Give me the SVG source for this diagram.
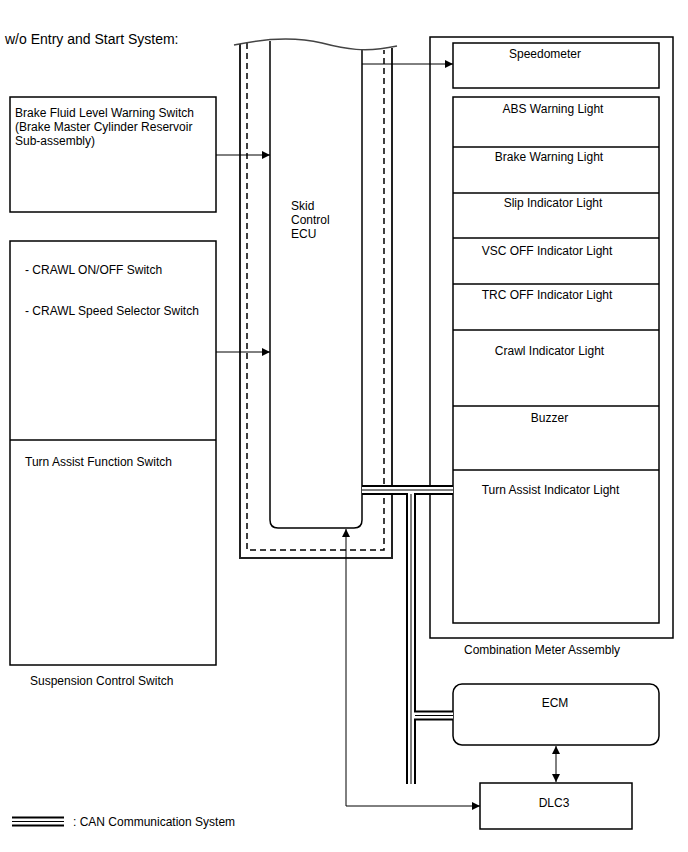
<svg xmlns="http://www.w3.org/2000/svg" width="688" height="852" viewBox="0 0 688 852">
<style>
text{font-family:"Liberation Sans",Arial,sans-serif;font-size:12px;fill:#000}
.c{text-anchor:middle}
.box{fill:#fff;stroke:#000;stroke-width:1.5}
.wall{fill:none;stroke:#222;stroke-width:2}
.dash{fill:none;stroke:#000;stroke-width:1.5;stroke-dasharray:6,4}
.ln{fill:none;stroke:#000;stroke-width:1}
.canO{fill:none;stroke:#000;stroke-width:10}
.canW{fill:none;stroke:#fff;stroke-width:6}
.canI{fill:none;stroke:#000;stroke-width:1}
</style>
<defs>
<marker id="ah" viewBox="0 0 10 10" refX="10" refY="5" markerWidth="10" markerHeight="8" markerUnits="userSpaceOnUse" orient="auto-start-reverse">
<path d="M0,0 L10,5 L0,10 z" fill="#000"/>
</marker>
</defs>
<rect width="688" height="852" fill="#fff"/>
<text x="5" y="44" style="font-size:14px">w/o Entry and Start System:</text>

<g id="skid-ecu">
<path class="wall" d="M240,44 V558 H392 V48"/>
<path class="dash" d="M247,43 V550 H384 V50"/>
<path class="ln" style="stroke-width:1.5" d="M270,41 V520 Q270,528 278,528 H354 Q362,528 362,520 V50"/>
<path d="M234,45 C262,39 292,36 322,43 C345,49 365,53 397,46" fill="none" stroke="#444" stroke-width="1.5"/>
<text x="291" y="210">Skid</text>
<text x="291" y="224">Control</text>
<text x="291" y="238">ECU</text>
</g>

<g id="brake-fluid-switch">
<rect class="box" x="10" y="97" width="206" height="115"/>
<text x="15" y="117">Brake Fluid Level Warning Switch</text>
<text x="15" y="131">(Brake Master Cylinder Reservoir</text>
<text x="15" y="145">Sub-assembly)</text>
</g>

<g id="suspension-control-switch">
<rect class="box" x="10" y="241" width="206" height="424"/>
<line class="ln" x1="10" y1="440" x2="216" y2="440" style="stroke-width:1.5"/>
<text x="25" y="274">- CRAWL ON/OFF Switch</text>
<text x="25" y="315">- CRAWL Speed Selector Switch</text>
<text x="25" y="466">Turn Assist Function Switch</text>
<text x="30" y="685">Suspension Control Switch</text>
</g>

<g id="combination-meter">
<rect class="box" x="430" y="37" width="243" height="601"/>
<rect class="box" x="453" y="43" width="206" height="45"/>
<text class="c" x="545" y="58">Speedometer</text>
<rect class="box" x="453" y="97" width="206" height="526"/>
<g class="ln" style="stroke-width:1.5">
<line x1="453" y1="147" x2="659" y2="147"/>
<line x1="453" y1="193" x2="659" y2="193"/>
<line x1="453" y1="238" x2="659" y2="238"/>
<line x1="453" y1="284" x2="659" y2="284"/>
<line x1="453" y1="330" x2="659" y2="330"/>
<line x1="453" y1="406" x2="659" y2="406"/>
<line x1="453" y1="470" x2="659" y2="470"/>
</g>
<text class="c" x="553" y="113">ABS Warning Light</text>
<text class="c" x="549" y="161">Brake Warning Light</text>
<text class="c" x="553" y="207">Slip Indicator Light</text>
<text class="c" x="547" y="255">VSC OFF Indicator Light</text>
<text class="c" x="547" y="299">TRC OFF Indicator Light</text>
<text class="c" x="549.5" y="355">Crawl Indicator Light</text>
<text class="c" x="549.5" y="422">Buzzer</text>
<text class="c" x="550.5" y="494">Turn Assist Indicator Light</text>
<text x="464" y="654">Combination Meter Assembly</text>
</g>

<g id="ecm">
<rect class="box" x="453" y="684" width="206" height="61" rx="9"/>
<text class="c" x="555" y="707">ECM</text>
</g>

<g id="dlc3">
<rect class="box" x="480" y="783" width="152" height="46"/>
<text class="c" x="554" y="807">DLC3</text>
</g>

<g id="connectors">
<path class="canO" d="M362,490 H453 M411,490 V784 M411,715.5 H453"/>
<path class="canW" d="M362,490 H453 M411,490 V784 M411,715.5 H453"/>
<path class="canI" d="M362,490 H453 M411,494 V784 M415,715.5 H453"/>
<line class="ln" x1="362" y1="64" x2="453" y2="64" marker-end="url(#ah)"/>
<line class="ln" x1="216" y1="155" x2="270" y2="155" marker-end="url(#ah)"/>
<line class="ln" x1="216" y1="352" x2="270" y2="352" marker-end="url(#ah)"/>
<path class="ln" d="M346,806 V529" marker-end="url(#ah)"/>
<path class="ln" d="M346,806 H480" marker-end="url(#ah)"/>
<line class="ln" x1="556" y1="746" x2="556" y2="782" marker-start="url(#ah)" marker-end="url(#ah)"/>
</g>

<g id="legend">
<path class="canO" d="M12,821.5 H64"/>
<path class="canW" d="M12,821.5 H64"/>
<path class="canI" d="M12,821.5 H64"/>
<text x="73" y="826">: CAN Communication System</text>
</g>
</svg>
